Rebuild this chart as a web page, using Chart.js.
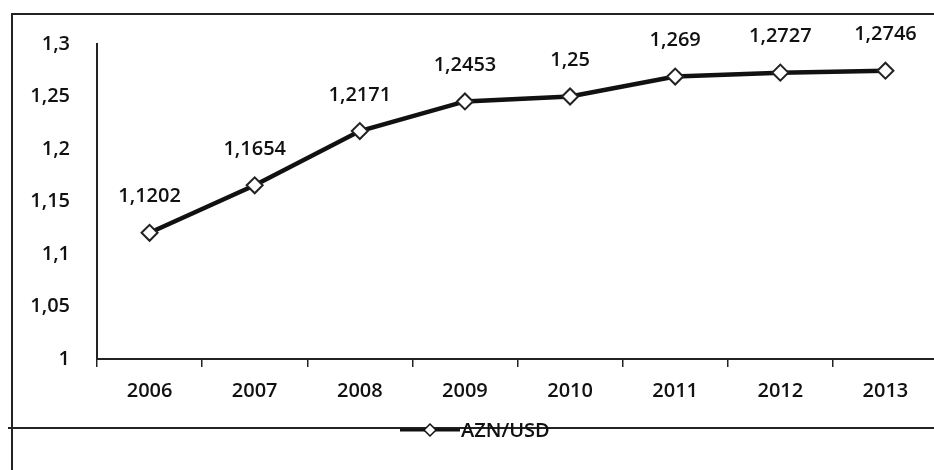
<!DOCTYPE html>
<html><head><meta charset="utf-8">
<script src="https://cdn.jsdelivr.net/npm/chart.js@4/dist/chart.umd.min.js"></script>
<style>html,body{margin:0;padding:0;background:#fff;overflow:hidden}#wrap{width:934px;height:470px;position:relative;overflow:hidden}</style>
</head><body><div id="wrap"><canvas id="c" width="948" height="470"></canvas></div>
<script>
const years = ['2006','2007','2008','2009','2010','2011','2012','2013'];
const aznUsd = [1.1202, 1.1654, 1.2171, 1.2453, 1.25, 1.269, 1.2727, 1.2746];
const valueLabels = ['1,1202','1,1654','1,2171','1,2453','1,25','1,269','1,2727','1,2746'];
const yTicks = [1, 1.05, 1.1, 1.15, 1.2, 1.25, 1.3];
const yTickLabels = ['1','1,05','1,1','1,15','1,2','1,25','1,3'];
const seriesName = 'AZN/USD';
const FONT = '"Open Sans", "Liberation Sans", sans-serif';
const W = '600';

const decor = {
  id: 'decor',
  beforeDraw(chart) {
    const ctx = chart.ctx;
    ctx.save();
    ctx.fillStyle = '#fff';
    ctx.fillRect(0, 0, chart.width, chart.height);
    ctx.strokeStyle = '#222';
    ctx.lineWidth = 2;
    ctx.beginPath();
    ctx.moveTo(12, 470); ctx.lineTo(12, 14); ctx.lineTo(chart.width, 14);
    ctx.stroke();
    ctx.beginPath();
    ctx.moveTo(8, 428); ctx.lineTo(chart.width, 428);
    ctx.stroke();
    ctx.restore();
  },
  afterDatasetsDraw(chart) {
    const ctx = chart.ctx;
    const meta = chart.getDatasetMeta(0);
    ctx.save();
    ctx.fillStyle = '#111';
    ctx.font = W + ' 20px ' + FONT;
    ctx.textAlign = 'center';
    ctx.textBaseline = 'middle';
    meta.data.forEach((pt, i) => {
      ctx.fillText(valueLabels[i], pt.x, pt.y - 36);
    });
    // legend
    const ly = 430;
    ctx.strokeStyle = '#111';
    ctx.lineWidth = 3;
    ctx.beginPath(); ctx.moveTo(400, ly); ctx.lineTo(460, ly); ctx.stroke();
    ctx.fillStyle = '#fff';
    ctx.lineWidth = 1.5;
    ctx.beginPath();
    ctx.moveTo(430, ly - 6); ctx.lineTo(436, ly); ctx.lineTo(430, ly + 6); ctx.lineTo(424, ly); ctx.closePath();
    ctx.fill(); ctx.stroke();
    ctx.fillStyle = '#111';
    ctx.textAlign = 'left';
    ctx.fillText(seriesName, 461, ly + 1);
    ctx.restore();
  }
};

new Chart(document.getElementById('c'), {
  type: 'line',
  data: {
    labels: years,
    datasets: [{
      label: seriesName,
      data: aznUsd,
      borderColor: '#111',
      borderWidth: 4.5,
      pointStyle: 'rectRot',
      pointRadius: 8,
      pointBackgroundColor: '#fff',
      pointBorderColor: '#222',
      pointBorderWidth: 2,
      tension: 0
    }]
  },
  options: {
    responsive: false,
    animation: false,
    devicePixelRatio: 1,
    layout: { padding: { top: 44, right: 0, bottom: 61, left: 0 } },
    plugins: { legend: { display: false }, tooltip: { enabled: false } },
    scales: {
      x: {
        offset: true,
        afterFit(s) { s.height = 50; },
        grid: { display: true, drawOnChartArea: false, offset: true, tickLength: 8, color: '#222', lineWidth: 1.5 },
        border: { display: true, color: '#222', width: 2 },
        ticks: { color: '#111', font: { family: FONT, size: 20, weight: W }, padding: 12 }
      },
      y: {
        min: 1, max: 1.3,
        afterFit(s) { s.width = 97; },
        afterBuildTicks(s) { s.ticks = yTicks.map(v => ({ value: v })); },
        grid: { display: false, drawTicks: false },
        border: { display: true, color: '#222', width: 2 },
        ticks: {
          color: '#111', font: { family: FONT, size: 20, weight: W }, padding: 27,
          callback(v) { const i = yTicks.findIndex(t => Math.abs(t - v) < 1e-9); return i >= 0 ? yTickLabels[i] : ''; }
        }
      }
    }
  },
  plugins: [decor]
});
</script></body></html>
